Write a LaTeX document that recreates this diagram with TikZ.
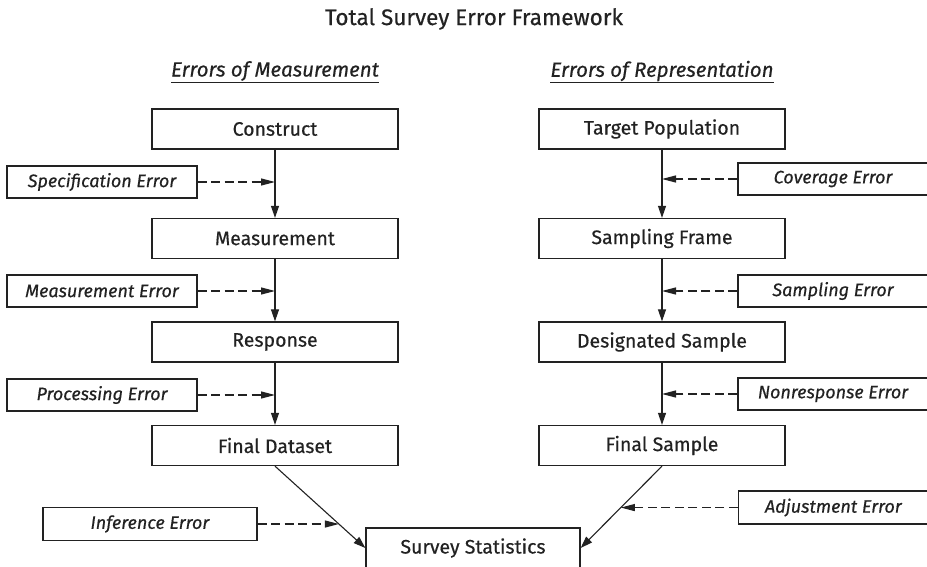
\documentclass[tikz,border=0pt]{standalone}
\usepackage{fontspec}
\setmainfont{Fira Sans}[FakeBold=0.45]
\usetikzlibrary{arrows.meta,calc}
\definecolor{ink}{HTML}{222222}
\begin{document}
\begin{tikzpicture}[x=1pt,y=-1pt,
  stagebox/.style={draw=ink,line width=1.3pt,minimum width=246pt,minimum height=40pt,
    inner sep=0pt,text=ink,font=\fontsize{19.5}{22}\selectfont},
  errbox/.style={draw=ink,line width=1.3pt,minimum width=190pt,minimum height=32pt,
    inner sep=0pt,text=ink,font=\fontsize{18}{20}\selectfont\itshape},
  flow/.style={draw=ink,line width=1.1pt,-{Triangle[length=12pt,width=8pt]}},
  errflow/.style={draw=ink,line width=1.2pt,dash pattern=on 9pt off 4.5pt,
    -{Triangle[length=14pt,width=7pt]}},
  heading/.style={text=ink,font=\fontsize{20.5}{22}\selectfont\itshape},
]
\useasboundingbox (0,0) rectangle (927,567);
\fill[white] (0,0) rectangle (927,567);

% title and column headings
\node[text=ink,font=\fontsize{22.5}{24}\selectfont] (title) at (474,19) {Total Survey Error Framework};
\node[heading] (hmeas) at (275,72) {\underline{Errors of Measurement}};
\node[heading] (hrep) at (662,72) {\underline{Errors of Representation}};

% measurement side
\node[stagebox] (con) at (275,129) {Construct};
\node[stagebox] (mea) at (275,238.5) {Measurement};
\node[stagebox] (res) at (275,342) {Response};
\node[stagebox] (fd)  at (275,445.5) {Final Dataset};

% representation side
\node[stagebox] (tp) at (662,129) {Target Population};
\node[stagebox] (sf) at (662,238.5) {Sampling Frame};
\node[stagebox] (ds) at (662,342) {Designated Sample};
\node[stagebox] (fs) at (662,445.5) {Final Sample};

% final outcome
\node[stagebox,minimum width=214pt] (ss) at (473,548) {Survey Statistics};

% error sources, measurement side
\node[errbox] (spe) at (102,182) {Specification Error};
\node[errbox] (mee) at (102,291) {Measurement Error};
\node[errbox] (pre) at (102,395) {Processing Error};

% error sources, representation side
\node[errbox] (cov) at (833,179) {Coverage Error};
\node[errbox] (sae) at (833,291) {Sampling Error};
\node[errbox] (noe) at (833,394) {Nonresponse Error};

% points where error arrows meet the flow
\coordinate (spei) at (con.south |- spe.east);
\coordinate (meei) at (mea.south |- mee.east);
\coordinate (prei) at (res.south |- pre.east);
\coordinate (covi) at (tp.south |- cov.west);
\coordinate (saei) at (sf.south |- sae.west);
\coordinate (noei) at (ds.south |- noe.west);
\coordinate (infi) at ($(fd.south)!0.707!(ss.west)$);
\coordinate (adji) at ($(fs.south)!0.506!(ss.east)$);

\node[errbox,minimum width=214pt,minimum height=33pt] (inf) at ($(infi)+(-189,0)$) {Inference Error};
\node[errbox,minimum height=33pt] (adj) at ($(adji)+(212.5,0)$) {Adjustment Error};

% main flow
\draw[flow] (con) -- (mea);
\draw[flow] (mea) -- (res);
\draw[flow] (res) -- (fd);
\draw[flow] (tp) -- (sf);
\draw[flow] (sf) -- (ds);
\draw[flow] (ds) -- (fs);
\draw[flow] (fd.south) -- (ss.west);
\draw[flow] (fs.south) -- (ss.east);

% error arrows
\draw[errflow] (spe.east) -- (spei);
\draw[errflow] (mee.east) -- (meei);
\draw[errflow] (pre.east) -- (prei);
\draw[errflow] (cov.west) -- (covi);
\draw[errflow] (sae.west) -- (saei);
\draw[errflow] (noe.west) -- (noei);
\draw[errflow] (inf.east) -- (infi);
\draw[errflow] (adj.west) -- (adji);
\end{tikzpicture}
\end{document}
